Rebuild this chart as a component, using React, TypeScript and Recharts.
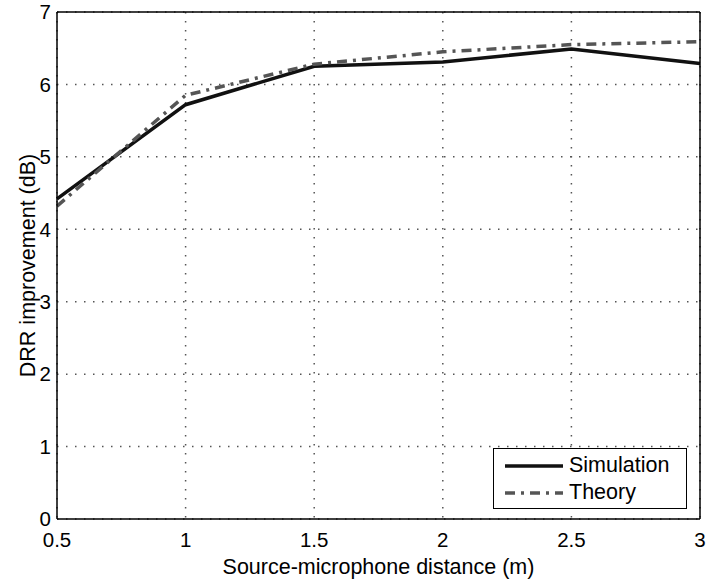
import { LineChart, Line, XAxis, YAxis, CartesianGrid, Legend } from "recharts";

const distances = [0.5, 1, 1.5, 2, 2.5, 3];
const simulation = [4.42, 5.72, 6.25, 6.31, 6.49, 6.29];
const theory = [4.32, 5.85, 6.28, 6.45, 6.55, 6.59];
const xTicks = [0.5, 1, 1.5, 2, 2.5, 3];
const yTicks = [0, 1, 2, 3, 4, 5, 6, 7];

const data = distances.map((d, i) => ({ x: d, sim: simulation[i], th: theory[i] }));

const font = "'Liberation Sans', Arial, Helvetica, sans-serif";

function LegendBox({ payload }: any) {
  return (
    <div
      style={{
        border: "1.2px solid #000",
        background: "#fff",
        padding: "3px 0 2px 11px",
        fontFamily: font,
        fontSize: 21.5,
        boxSizing: "border-box",
        width: 194,
        height: 61,
      }}
    >
      {(payload || []).map((p: any) => (
        <div key={p.value} style={{ display: "flex", alignItems: "center", height: 27 }}>
          <svg width={58} height={10} style={{ marginRight: 6 }}>
            <line
              x1={0}
              y1={5}
              x2={58}
              y2={5}
              stroke={p.color}
              strokeWidth={3.5}
              strokeDasharray={p.payload.strokeDasharray}
            />
          </svg>
          <span>{p.value}</span>
        </div>
      ))}
    </div>
  );
}

// rotated y label, centred on the axis height
function YLabel({ viewBox }: any) {
  const cx = viewBox.x + 11;
  const cy = viewBox.y + viewBox.height / 2;
  return (
    <text
      x={cx}
      y={cy}
      transform={`rotate(-90 ${cx} ${cy})`}
      textAnchor="middle"
      dominantBaseline="central"
      fontSize={21.5}
      fill="#000"
    >
      DRR improvement (dB)
    </text>
  );
}

export default function App() {
  return (
    <div style={{ position: "absolute", left: 0, top: 0, background: "#fff" }}>
      <LineChart
        width={709}
        height={584}
        data={data}
        margin={{ top: 12, right: 9, bottom: 35, left: 17 }}
        style={{ fontFamily: font }}
      >
        <CartesianGrid stroke="#555" strokeWidth={1.5} strokeDasharray="1.5 7.5" />
        <XAxis
          dataKey="x"
          type="number"
          domain={[0.5, 3]}
          ticks={xTicks}
          tickLine={false}
          tickSize={0}
          tickMargin={13}
          height={30}
          axisLine={{ stroke: "#000", strokeWidth: 1.5 }}
          tick={{ fill: "#000", fontSize: 20.5 }}
          label={{ value: "Source-microphone distance (m)", position: "insideBottom", offset: -25, fill: "#000", fontSize: 21.5 }}
        />
        <XAxis xAxisId="bt" dataKey="x" type="number" domain={[0.5, 3]} ticks={xTicks} orientation="bottom" mirror tick={false} tickSize={6} axisLine={false} tickLine={{ stroke: "#000" }} />
        <XAxis xAxisId="top" dataKey="x" type="number" domain={[0.5, 3]} ticks={xTicks} orientation="top" mirror tick={false} tickSize={6} axisLine={{ stroke: "#000", strokeWidth: 1.5 }} tickLine={{ stroke: "#000" }} />
        <YAxis
          type="number"
          domain={[0, 7]}
          ticks={yTicks}
          width={40}
          tickLine={false}
          tickSize={0}
          tickMargin={6}
          axisLine={{ stroke: "#000", strokeWidth: 1.5 }}
          tick={{ fill: "#000", fontSize: 20.5 }}
          label={{ content: <YLabel /> }}
        />
        <YAxis yAxisId="lt" type="number" domain={[0, 7]} ticks={yTicks} orientation="left" mirror tick={false} tickSize={6} axisLine={false} tickLine={{ stroke: "#000" }} />
        <YAxis yAxisId="rt" type="number" domain={[0, 7]} ticks={yTicks} orientation="right" mirror tick={false} tickSize={6} axisLine={{ stroke: "#000", strokeWidth: 1.5 }} tickLine={{ stroke: "#000" }} />
        <Line
          dataKey="sim"
          name="Simulation"
          stroke="#111"
          strokeWidth={3.5}
          dot={false}
          isAnimationActive={false}
        />
        <Line
          dataKey="th"
          name="Theory"
          stroke="#555"
          strokeWidth={3.5}
          strokeDasharray="10 6 3 6"
          dot={false}
          isAnimationActive={false}
        />
        <Legend
          layout="horizontal"
          verticalAlign="middle"
          align="center"
          content={<LegendBox />}
          wrapperStyle={{ position: "absolute", left: 493, top: 448, width: 194 }}
        />
      </LineChart>
    </div>
  );
}
